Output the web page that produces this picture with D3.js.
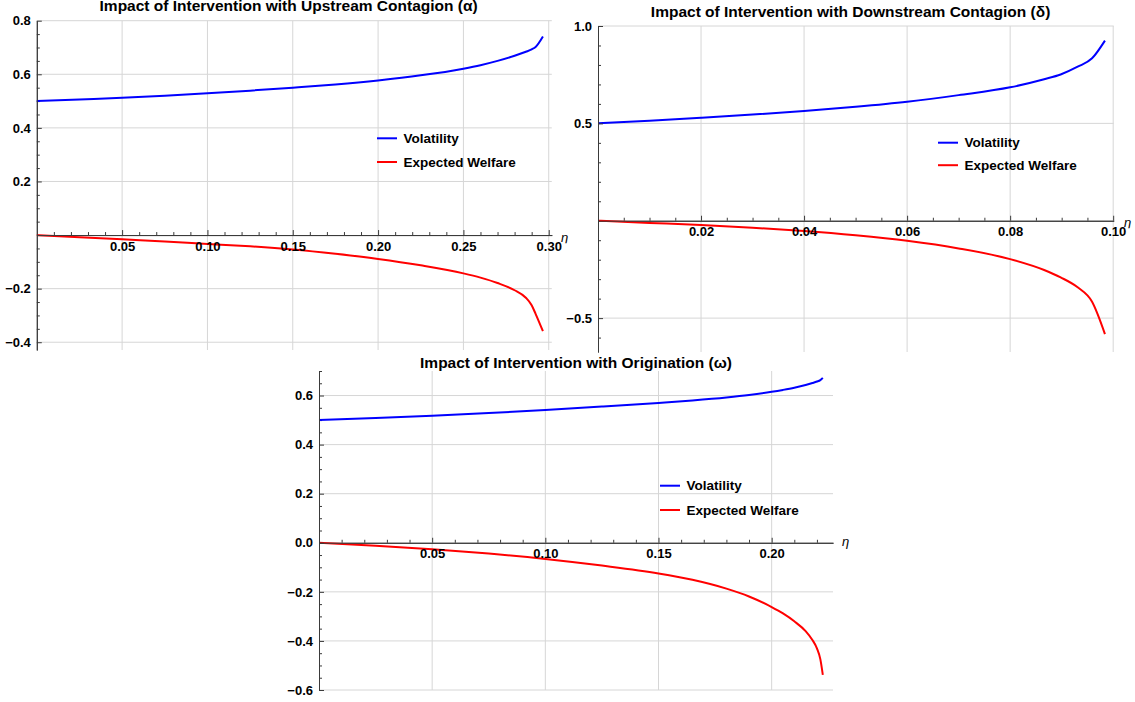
<!DOCTYPE html>
<html>
<head>
<meta charset="utf-8">
<script src="https://cdn.jsdelivr.net/npm/d3@7/dist/d3.min.js"></script>
<style>
  html, body { margin: 0; padding: 0; background: #fff; }
  svg { display: block; }
  text { font-family: "Liberation Sans", Arial, sans-serif; }
</style>
</head>
<body>
<svg id="chart" width="1135" height="702"></svg>
<script>
// ---------------- DATA ----------------
// Panel 1: Upstream Contagion (alpha)
const eta1 = [0, 0.025, 0.05, 0.075, 0.10, 0.125, 0.15, 0.175, 0.20, 0.225, 0.25, 0.26, 0.27, 0.28, 0.2866, 0.29, 0.2923, 0.2966];
const volatility1 = [0.500, 0.506, 0.512, 0.520, 0.529, 0.539, 0.550, 0.562, 0.577, 0.596, 0.621, 0.634, 0.650, 0.669, 0.684, 0.693, 0.702, 0.741];
const welfare1 = [0, -0.008, -0.016, -0.024, -0.033, -0.042, -0.054, -0.070, -0.089, -0.113, -0.143, -0.159, -0.179, -0.206, -0.234, -0.262, -0.294, -0.359];
const xTicks1 = [0.05, 0.10, 0.15, 0.20, 0.25, 0.30];
const xLabels1 = ["0.05", "0.10", "0.15", "0.20", "0.25", "0.30"];
const yTicks1 = [-0.4, -0.2, 0.2, 0.4, 0.6, 0.8];
const yLabels1 = ["\u22120.4", "\u22120.2", "0.2", "0.4", "0.6", "0.8"];

// Panel 2: Downstream Contagion (delta)
const eta2 = [0, 0.01, 0.02, 0.03, 0.04, 0.05, 0.06, 0.07, 0.08, 0.0866, 0.0898, 0.0931, 0.0959, 0.0984];
const volatility2 = [0.500, 0.514, 0.529, 0.545, 0.563, 0.585, 0.611, 0.645, 0.685, 0.727, 0.751, 0.791, 0.834, 0.925];
const welfare2 = [0, -0.011, -0.022, -0.036, -0.053, -0.075, -0.103, -0.142, -0.197, -0.253, -0.291, -0.342, -0.416, -0.582];
const xTicks2 = [0.02, 0.04, 0.06, 0.08, 0.10];
const xLabels2 = ["0.02", "0.04", "0.06", "0.08", "0.10"];
const yTicks2 = [-0.5, 0.5, 1.0];
const yLabels2 = ["\u22120.5", "0.5", "1.0"];

// Panel 3: Origination (omega)
const eta3 = [0, 0.025, 0.05, 0.075, 0.10, 0.125, 0.15, 0.165, 0.18, 0.19, 0.20, 0.205, 0.21, 0.215, 0.218, 0.22, 0.2215, 0.2226];
const volatility3 = [0.500, 0.5085, 0.5175, 0.5285, 0.541, 0.555, 0.570, 0.580, 0.592, 0.602, 0.615, 0.623, 0.632, 0.643, 0.651, 0.657, 0.663, 0.672];
const welfare3 = [0, -0.012, -0.026, -0.044, -0.066, -0.093, -0.125, -0.151, -0.187, -0.219, -0.262, -0.288, -0.320, -0.360, -0.396, -0.430, -0.474, -0.538];
const xTicks3 = [0.05, 0.10, 0.15, 0.20];
const xLabels3 = ["0.05", "0.10", "0.15", "0.20"];
const yTicks3 = [-0.6, -0.4, -0.2, 0.0, 0.2, 0.4, 0.6];
const yLabels3 = ["\u22120.6", "\u22120.4", "\u22120.2", "0.0", "0.2", "0.4", "0.6"];

const titles = [
  "Impact of Intervention with Upstream Contagion (\u03b1)",
  "Impact of Intervention with Downstream Contagion (\u03b4)",
  "Impact of Intervention with Origination (\u03c9)"
];
const seriesNames = ["Volatility", "Expected Welfare"];
const axisLabel = "\u03b7";

// ---------------- LAYOUT ----------------
const panels = [
  { title: titles[0], eta: eta1, vol: volatility1, wel: welfare1,
    xDom: [0, 0.3018], xRange: [36.8, 551.8], yDom: [-0.429, 0.8], yRange: [350, 20.7],
    xTicks: xTicks1, xLabels: xLabels1, xMinor: 0.01,
    yTicks: yTicks1, yLabels: yLabels1, yMinor: 0.05, showZero: false,
    titleX: 288.6, titleY: 10.5, etaX: 561, etaY: 241.7, etaClip: true,
    legX: 377, legY: 138.3, legGap: 23.7 },
  { title: titles[1], eta: eta2, vol: volatility2, wel: welfare2,
    xDom: [0, 0.1001], xRange: [598, 1113.7], yDom: [-0.674, 1.0], yRange: [352, 26],
    xTicks: xTicks2, xLabels: xLabels2, xMinor: 0.005,
    yTicks: yTicks2, yLabels: yLabels2, yMinor: 0.1, showZero: false,
    titleX: 850.6, titleY: 17.3, etaX: 1124, etaY: 226.7, etaClip: true,
    legX: 938, legY: 142.7, legGap: 22.5 },
  { title: titles[2], eta: eta3, vol: volatility3, wel: welfare3,
    xDom: [0, 0.2271], xRange: [319, 833], yDom: [-0.6, 0.7], yRange: [690, 371],
    xTicks: xTicks3, xLabels: xLabels3, xMinor: 0.01,
    yTicks: yTicks3, yLabels: yLabels3, yMinor: 0.05, showZero: true,
    titleX: 576, titleY: 367.7, etaX: 842, etaY: 546.2, etaClip: false,
    legX: 660, legY: 485.7, legGap: 24.3 }
];

const svg = d3.select("#chart");
const defs = svg.append("defs");
const AXIS = "#3a3a3a", GRID = "#d6d6d6";
const colors = ["#0000ff", "#ff0000"];

panels.forEach((p, i) => {
  const x = d3.scaleLinear().domain(p.xDom).range(p.xRange);
  const y = d3.scaleLinear().domain(p.yDom).range(p.yRange);
  const g = svg.append("g");
  const x0 = x(0), y0 = y(0);

  // gridlines
  g.append("g").selectAll("line").data(p.xTicks).join("line")
    .attr("x1", d => x(d)).attr("x2", d => x(d))
    .attr("y1", p.yRange[1]).attr("y2", p.yRange[0])
    .attr("stroke", GRID).attr("stroke-width", 1);
  g.append("g").selectAll("line").data(p.yTicks.filter(v => v !== 0)).join("line")
    .attr("x1", p.xRange[0]).attr("x2", p.xRange[1])
    .attr("y1", d => y(d)).attr("y2", d => y(d))
    .attr("stroke", GRID).attr("stroke-width", 1);

  // minor ticks
  const xMinorVals = d3.range(p.xMinor, p.xDom[1] + 1e-9, p.xMinor)
    .filter(v => !p.xTicks.some(t => Math.abs(t - v) < 1e-6));
  const yMinorVals = d3.range(Math.ceil(p.yDom[0] / p.yMinor) * p.yMinor, p.yDom[1] + 1e-9, p.yMinor)
    .filter(v => Math.abs(v) > 1e-6 && !p.yTicks.some(t => Math.abs(t - v) < 1e-6));

  const xMinorAxis = d3.axisBottom(x).tickValues(xMinorVals).tickFormat("").tickSizeInner(-3).tickSizeOuter(0);
  const yMinorAxis = d3.axisLeft(y).tickValues(yMinorVals).tickFormat("").tickSizeInner(-3).tickSizeOuter(0);

  const xAxis = d3.axisBottom(x).tickValues(p.xTicks)
    .tickFormat((d, k) => p.xLabels[k]).tickSizeInner(-5).tickSizeOuter(0).tickPadding(6.5);
  const yShown = p.yTicks.filter(v => v !== 0 || p.showZero);
  const yAxis = d3.axisLeft(y).tickValues(yShown)
    .tickFormat(d => p.yLabels[p.yTicks.indexOf(d)]).tickSizeInner(-5).tickSizeOuter(0).tickPadding(6);

  // axis label eta (drawn under tick labels)
  const etaText = g.append("text")
    .attr("x", p.etaX).attr("y", p.etaY)
    .attr("font-family", "'DejaVu Sans', sans-serif")
    .attr("font-style", "italic").attr("font-size", 13)
    .attr("fill", "#000").text(axisLabel);
  if (p.etaClip) {
    const id = "etaclip" + i;
    defs.append("clipPath").attr("id", id).append("rect")
      .attr("x", p.etaX - 5).attr("y", p.etaY - 15).attr("width", 20).attr("height", 16.5);
    etaText.attr("clip-path", `url(#${id})`);
  }

  const styleAxis = (sel) => {
    sel.select(".domain").attr("stroke", AXIS).attr("stroke-width", 1);
    sel.selectAll(".tick line").attr("stroke", AXIS).attr("stroke-width", 1);
    sel.selectAll(".tick text").attr("fill", "#000")
      .attr("font-family", "'Liberation Sans', Arial, sans-serif")
      .attr("font-weight", "bold").attr("font-size", 13);
  };

  g.append("g").attr("transform", `translate(0,${y0})`).call(xMinorAxis).call(styleAxis);
  g.append("g").attr("transform", `translate(${x0},0)`).call(yMinorAxis).call(styleAxis);

  // curves
  const pts = (vals) => p.eta.map((e, k) => [e, vals[k]]);
  const line = d3.line().x(d => x(d[0])).y(d => y(d[1])).curve(d3.curveMonotoneX);
  [p.vol, p.wel].forEach((vals, s) => {
    g.append("path").datum(pts(vals))
      .attr("d", line).attr("fill", "none")
      .attr("stroke", colors[s]).attr("stroke-width", 2)
      .attr("stroke-linejoin", "round");
  });

  g.append("g").attr("transform", `translate(0,${y0})`).call(xAxis).call(styleAxis);
  g.append("g").attr("transform", `translate(${x0},0)`).call(yAxis).call(styleAxis);

  // title
  g.append("text").attr("x", p.titleX).attr("y", p.titleY)
    .attr("text-anchor", "middle").attr("font-weight", "bold")
    .attr("font-size", 15.5).attr("fill", "#000").text(p.title);

  // legend
  seriesNames.forEach((name, s) => {
    const ly = p.legY + s * p.legGap;
    g.append("line").attr("x1", p.legX).attr("x2", p.legX + 20)
      .attr("y1", ly).attr("y2", ly)
      .attr("stroke", colors[s]).attr("stroke-width", 2);
    g.append("text").attr("x", p.legX + 26.5).attr("y", ly).attr("dy", "0.35em")
      .attr("font-weight", "bold").attr("font-size", 13.5).attr("fill", "#000").text(name);
  });
});
</script>
</body>
</html>
